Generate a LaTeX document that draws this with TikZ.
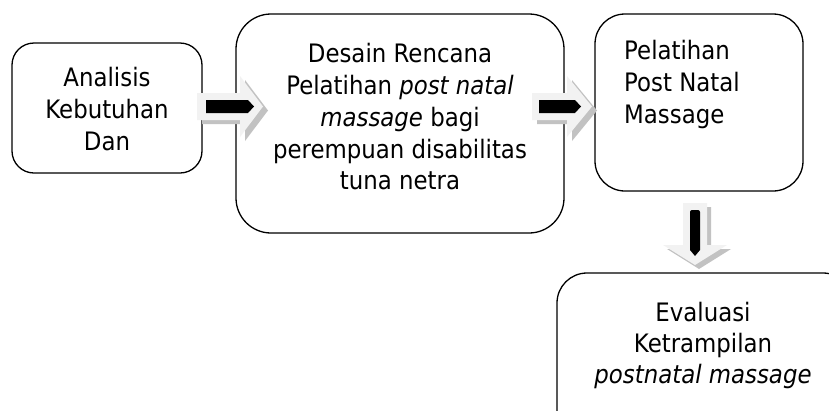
\documentclass[tikz,border=0pt]{standalone}
\usepackage{fontspec}
\setmainfont{DejaVu Sans}[FakeStretch=0.9]
\begin{document}
\begin{tikzpicture}[x=1pt,y=-1pt,
  box/.style={draw=black,line width=1.3pt,rounded corners=#1,inner sep=0pt,fill=white},
  txt/.style={anchor=base,inner sep=0pt,font=\fontsize{25.4}{32}\selectfont},
  txtl/.style={anchor=base west,inner sep=0pt,font=\fontsize{25.4}{32}\selectfont},
  lightarrow/.style={fill=black!5,draw=none},
  shadowarrow/.style={fill=black!24,draw=none},
  darkarrow/.style={fill=black,draw=none}]
\useasboundingbox (0,0) rectangle (829,410);
\clip (0,0) rectangle (829,410);
% boxes
\node[box=22pt,minimum width=190pt,minimum height=130pt] (b1) at (107,108) {};
\node[box=35pt,minimum width=328pt,minimum height=219pt] (b2) at (400,123.5) {};
\node[box=30pt,minimum width=208pt,minimum height=177pt] (b3) at (699,102.5) {};
\node[box=30pt,minimum width=296pt,minimum height=167pt] (b4) at (705,356.5) {};
% texts
\node[txt] (t11) at (107,86.5) {Analisis};
\node[txt] (t12) at (107,118.5) {Kebutuhan};
\node[txt] (t13) at (107,150.5) {Dan};
\node[txt] (t21) at (400,62.5) {Desain Rencana};
\node[txt] (t22) at (400,94) {Pelatihan \textit{post natal}};
\node[txt] (t23) at (400,126) {\textit{massage} bagi};
\node[txt] (t24) at (400,158) {perempuan disabilitas};
\node[txt] (t25) at (400,189.5) {tuna netra};
\node[txtl] (t31) at (624,59.5) {Pelatihan};
\node[txtl] (t32) at (624,91.5) {Post Natal};
\node[txtl] (t33) at (624,123.5) {Massage};
\node[txt] (t41) at (703,321) {Evaluasi};
\node[txt] (t42) at (703,352.5) {Ketrampilan};
\node[txt] (t43) at (703,383) {\textit{postnatal massage}};
% arrow 1 (b1 -> b2)
\coordinate (a1) at (197,106.5);
\begin{scope}[shift={(a1)}]
  \fill[shadowarrow,shift={(5,4)}] (0,-13.5) -- (43,-13.5) -- (43,-30.5) -- (66,0) -- (43,30.5) -- (43,13.5) -- (0,13.5) -- cycle;
  \fill[lightarrow] (0,-13.5) -- (43,-13.5) -- (43,-30.5) -- (66,0) -- (43,30.5) -- (43,13.5) -- (0,13.5) -- cycle;
  \fill[darkarrow] (9,-6.5) -- (51,-6.5) -- (57,0) -- (51,6.5) -- (9,6.5) -- cycle;
\end{scope}
% arrow 2 (b2 -> b3)
\coordinate (a2) at (532,106.5);
\begin{scope}[shift={(a2)}]
  \fill[shadowarrow,shift={(5,4)}] (0,-13.5) -- (35,-13.5) -- (35,-30.5) -- (60,0) -- (35,30.5) -- (35,13.5) -- (0,13.5) -- cycle;
  \fill[lightarrow] (0,-13.5) -- (35,-13.5) -- (35,-30.5) -- (60,0) -- (35,30.5) -- (35,13.5) -- (0,13.5) -- cycle;
  \fill[darkarrow] (7,-6.5) -- (43,-6.5) -- (49,0) -- (43,6.5) -- (7,6.5) -- cycle;
\end{scope}
% arrow 3 (b3 -> b4)
\coordinate (a3) at (695,203);
\begin{scope}[shift={(a3)}]
  \fill[shadowarrow,shift={(4,4)}] (-12,0) -- (12,0) -- (12,42) -- (32,42) -- (0,62) -- (-32,42) -- (-12,42) -- cycle;
  \fill[lightarrow] (-12,0) -- (12,0) -- (12,42) -- (32,42) -- (0,62) -- (-32,42) -- (-12,42) -- cycle;
  \fill[darkarrow] (-5,9) [rounded corners=2pt] -- (-5,7) -- (5,7) [sharp corners] -- (5,47) -- (0,53) -- (-5,47) -- cycle;
\end{scope}
\end{tikzpicture}
\end{document}
